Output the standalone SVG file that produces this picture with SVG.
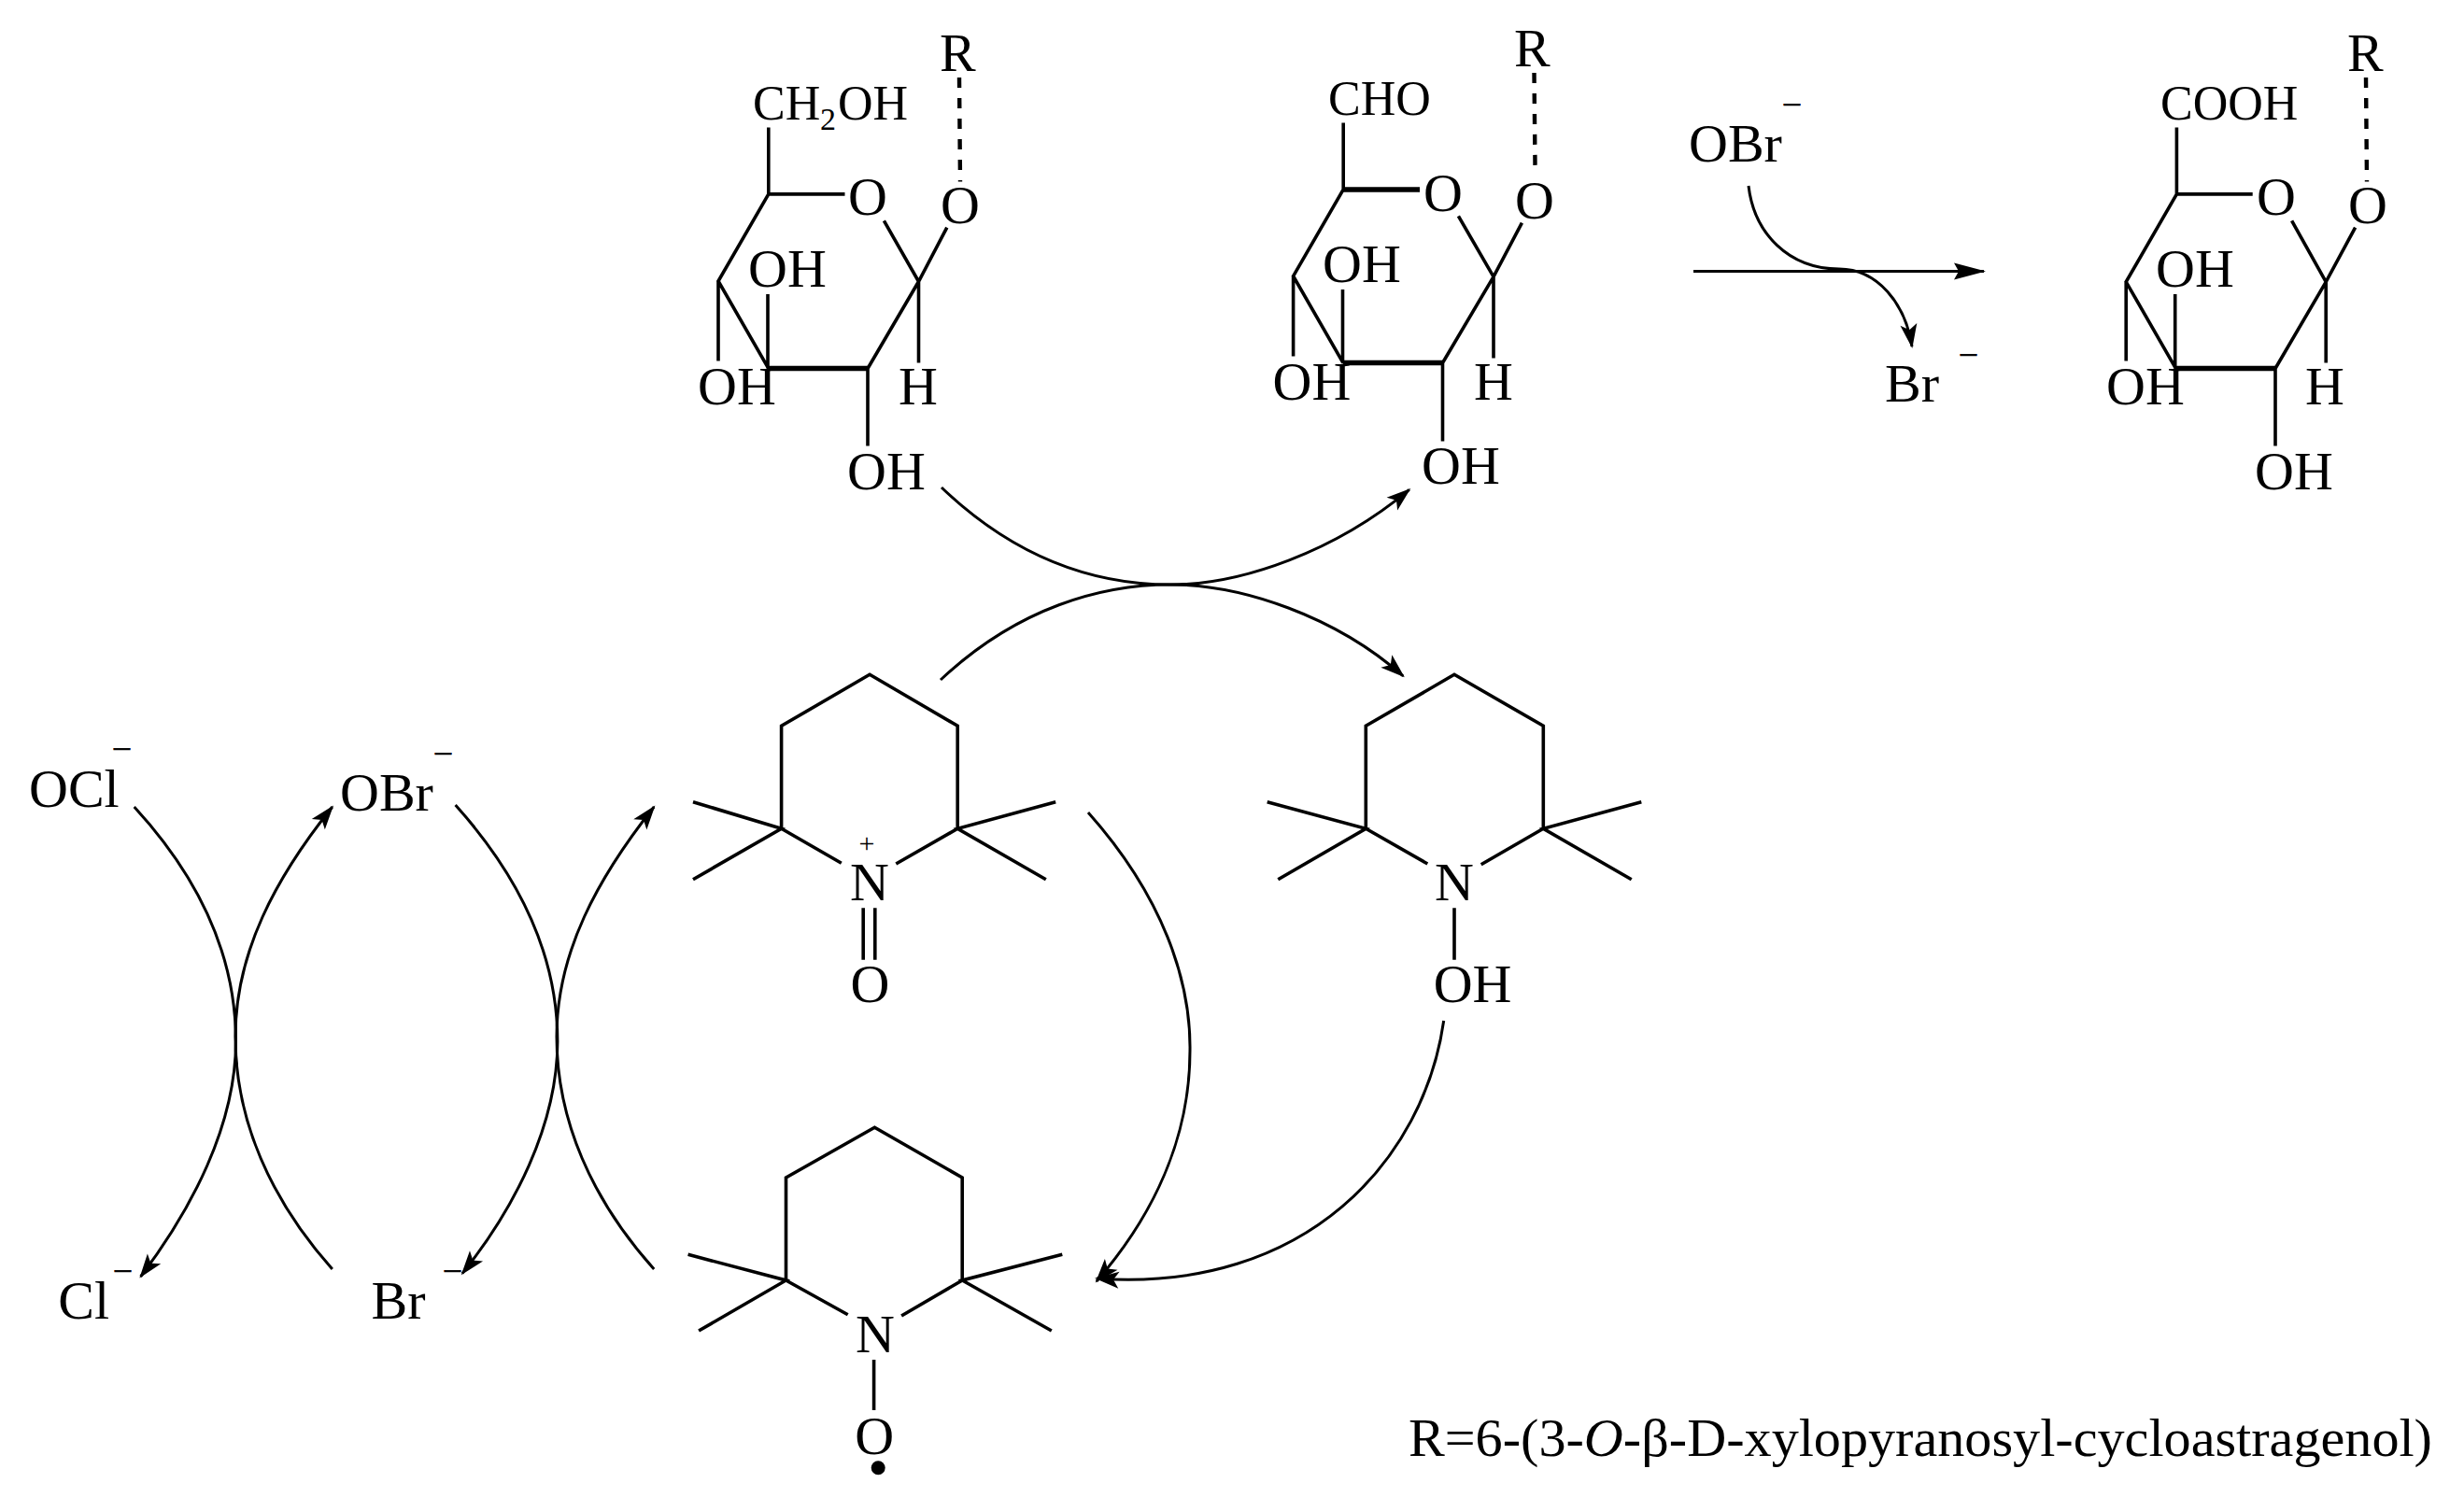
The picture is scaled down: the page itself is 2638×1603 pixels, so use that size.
<svg xmlns="http://www.w3.org/2000/svg" width="2638" height="1603" viewBox="0 0 2638 1603">
<style>
text{font-family:"Liberation Serif","Times New Roman",serif;font-size:58px;fill:#000}
.s{font-size:52px}
.sub{font-size:34px}
.plus{font-size:30px}
.m{font-size:34px;stroke:#000;stroke-width:.7}
.b{fill:none;stroke:#000;stroke-width:3.6}
.w{fill:none;stroke:#000;stroke-width:5.5}
.d{fill:none;stroke:#000;stroke-width:4.4;stroke-dasharray:11 11}
.c{fill:none;stroke:#000;stroke-width:3}
.ah{marker-end:url(#ah)}
.al{marker-end:url(#al)}
</style>
<defs>
<marker id="ah" markerUnits="userSpaceOnUse" markerWidth="30" markerHeight="22" viewBox="-26 -11 30 22" orient="auto"><path d="M2,0L-24,-9L-18,0L-24,9Z" fill="#000"/></marker>
<marker id="al" markerUnits="userSpaceOnUse" markerWidth="40" markerHeight="22" viewBox="-36 -11 40 22" orient="auto"><path d="M2,0L-32,-9L-27,0L-32,9Z" fill="#000"/></marker>
</defs>
<rect width="2638" height="1603" fill="#fff"/>
<g id="sugar-alcohol">
<path class="b" d="M822.8,136.4V207.9H904.5M946.4,236.4L983.5,301.5L1013.8,243.6M822.8,207.9L769,301L822.8,394.6M983.5,301.5L929,394.6V477.5M769,301V386.4M822,315V394.6M983.5,301.5V388.6"/>
<path class="w" d="M822,394.6H929"/>
<path class="d" d="M1027,82.9L1028,194.6"/>
<text x="1006" y="75.7">R</text>
<text class="s" x="806" y="127.9">CH</text><text class="sub" x="878" y="138.6">2</text><text class="s" x="897" y="127.9">OH</text>
<text x="908" y="230.4">O</text><text x="1007" y="239.3">O</text>
<text x="801" y="307">OH</text><text x="747" y="432.9">OH</text><text x="962" y="432.9">H</text><text x="907" y="523.6">OH</text>
</g>
<g id="sugar-aldehyde">
<path class="b" d="M1438.2,131.4V202.9M1561.4,231.4L1599,296.4L1629.4,238.6M1438.2,202.9L1384.6,295.7L1438,388.6M1599,296.4L1544.5,388.6V472.5M1384.6,295.7V381.4M1437.5,310V388.6M1599,296.4V383.6"/>
<path class="w" d="M1438.2,202.9H1520M1437.5,388.6H1544.5"/>
<path class="d" d="M1642.5,77.9L1643.6,187.5"/>
<text x="1621" y="70.7">R</text>
<text class="s" x="1422" y="123.2">CHO</text>
<text x="1524" y="225.7">O</text><text x="1622" y="234">O</text>
<text x="1416" y="301.8">OH</text><text x="1362.5" y="427.5">OH</text><text x="1578" y="427.5">H</text><text x="1522" y="517.9">OH</text>
</g>
<g id="sugar-acid">
<path class="b" d="M2330.4,136.4V207.9H2411.7M2453.6,236.4L2490.2,301.8L2521.6,243.6M2330.4,207.9L2276.2,301.8L2329.5,394.6M2490.2,301.8L2436,394.6V477.5M2276.2,301.8V386.4M2328.7,315V394.6M2490.2,301.8V388.6"/>
<path class="w" d="M2329,394.6H2436"/>
<path class="d" d="M2533,82.9L2534,194.6"/>
<text x="2513" y="75.7">R</text>
<text class="s" x="2313" y="127.9">COOH</text>
<text x="2416" y="230.4">O</text><text x="2514" y="239.3">O</text>
<text x="2308" y="307">OH</text><text x="2255" y="432.9">OH</text><text x="2468" y="432.9">H</text><text x="2414" y="523.6">OH</text>
</g>
<g id="obr-top"><text x="1808" y="173">OBr</text><text class="m" x="1910" y="119.6">–</text></g>
<g id="br-top"><text x="2018" y="430.4">Br</text><text class="m" x="2099" y="387.6">–</text></g>
<g id="oxoammonium">
<path class="b" d="M900.8,924.3L836.6,887.3V777.3L931.1,722.3L1025.2,777.3V887.3L959.3,925M742,858.7L836.6,887.3L742,941.7M1130.2,858.7L1025.2,887.3L1119.8,941.7M924.2,972.3V1027.7M936.8,972.3V1027.7"/>
<text x="910" y="964">N</text><text class="plus" x="919.5" y="913">+</text><text x="910.5" y="1073.3">O</text>
</g>
<g id="hydroxylamine">
<path class="b" d="M1528.3,925L1462.3,887.3V777.3L1557,722.3L1652.3,777.3V887.3L1585.7,925.7M1356.7,858.7L1462.3,887.3L1368.3,941.7M1757.3,858.7L1652.3,887.3L1746.7,941.7M1557,972.3V1027.7"/>
<text x="1536" y="964">N</text><text x="1534.7" y="1073.3">OH</text>
</g>
<g id="nitroxyl">
<path class="b" d="M907.7,1407.7L841.5,1371V1261L936.4,1207.3L1030.2,1261V1371L965.1,1409M736.6,1343.3L841.5,1371L748.1,1425M1137.3,1343.3L1030.2,1371L1125.8,1425M935.6,1456V1510"/>
<text x="916" y="1448.3">N</text><text x="915.3" y="1556.7">O</text>
<circle cx="940.2" cy="1571.7" r="7.5"/>
</g>
<g id="ocl"><text x="31" y="864">OCl</text><text class="m" x="122" y="810">–</text></g>
<g id="obr"><text x="364" y="867.5">OBr</text><text class="m" x="466" y="815">–</text></g>
<g id="cl"><text x="62.3" y="1411.8">Cl</text><text class="m" x="123" y="1369">–</text></g>
<g id="br"><text x="397.5" y="1411.8">Br</text><text class="m" x="476" y="1369">–</text></g>
<g id="note"><text x="1508" y="1559" textLength="1096" lengthAdjust="spacingAndGlyphs">R=6-(3-<tspan font-style="italic">O</tspan>-β-D-xylopyranosyl-cycloastragenol)</text></g>
<g id="connectors">
<path class="c al" d="M1813,290.4H2124"/>
<path class="c ah" d="M1872,199C1878,250 1915,288 1969,288C2010,288 2040,325 2047,371"/>
<path class="c ah" d="M1008,522C1100,610 1190,626 1253,626C1330,626 1430,590 1508.8,524.3"/>
<path class="c ah" d="M1007,728C1090,650 1180,626 1253,626C1330,626 1430,660 1502.3,724"/>
<path class="c ah" d="M1165,870C1245,960 1275,1050 1274,1125C1274,1205 1245,1290 1174,1372"/>
<path class="c ah" d="M1545.7,1093C1525,1240 1400,1385 1174,1369"/>
<path class="c ah" d="M143.7,864C218,945 252.5,1030 252.5,1115C252.5,1205 205,1295 150.6,1367"/>
<path class="c ah" d="M355.8,1359C290,1285 252,1200 252,1110C252,1020 295,940 355.8,864"/>
<path class="c ah" d="M487.6,862C562,945 596.9,1030 596.9,1115C596.9,1205 550,1295 495,1363.6"/>
<path class="c ah" d="M700.2,1359C634,1285 596,1200 596,1110C596,1020 640,940 700.2,864"/>
</g>
</svg>
